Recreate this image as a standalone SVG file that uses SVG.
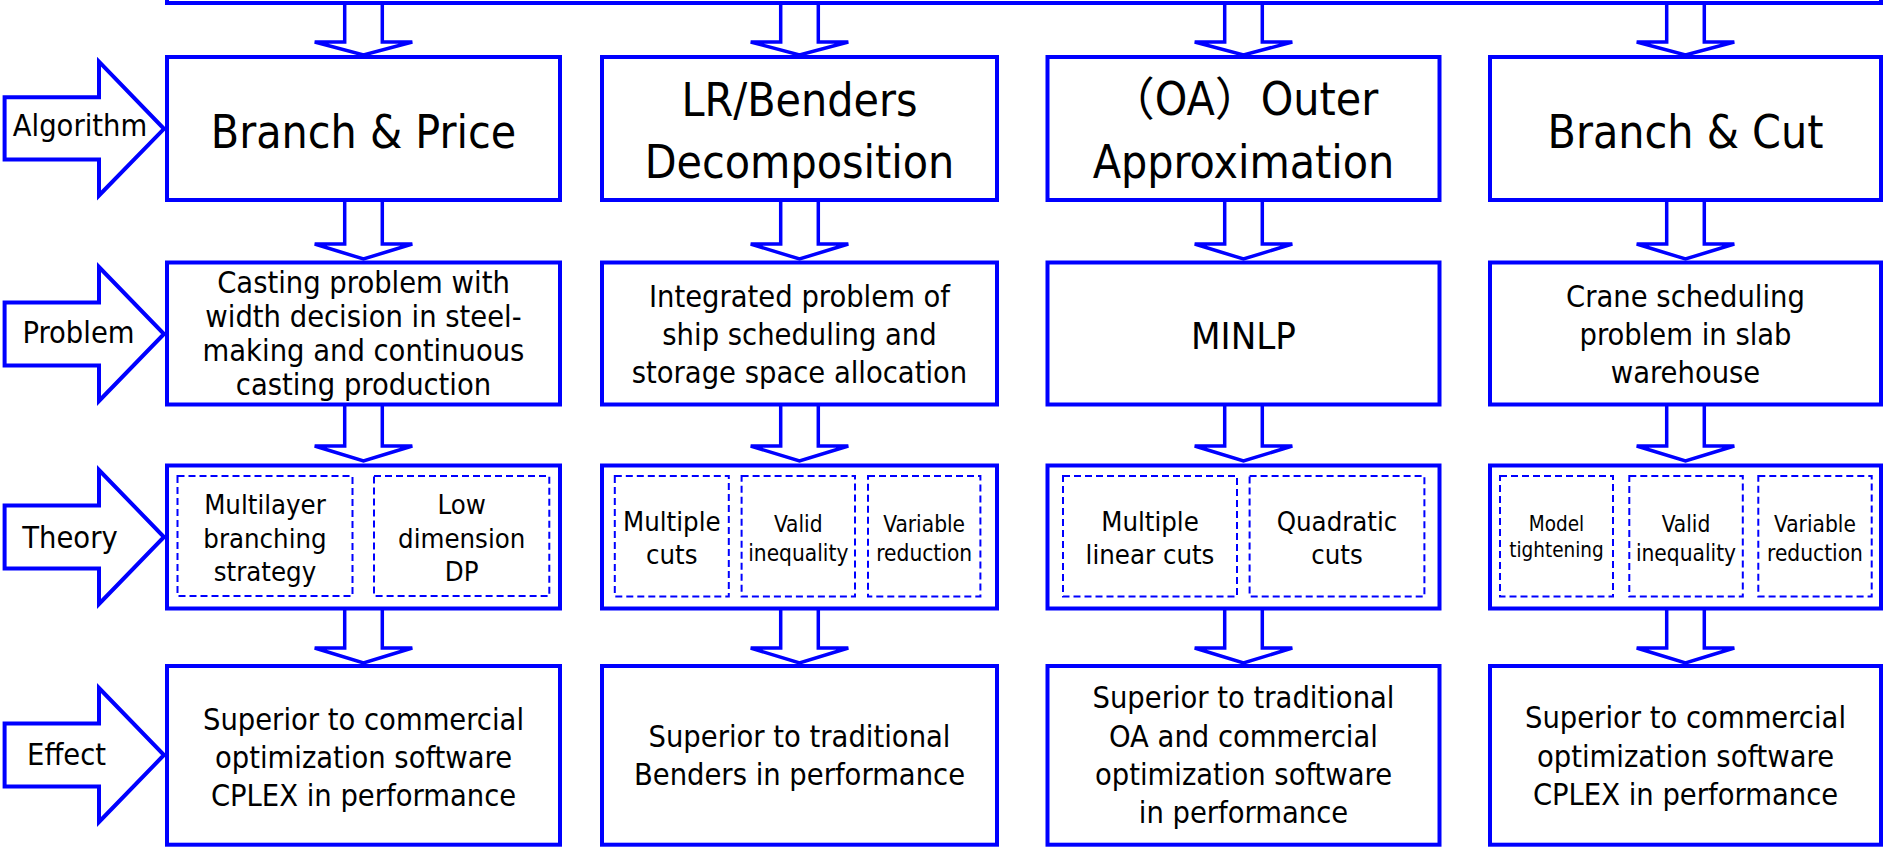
<svg xmlns="http://www.w3.org/2000/svg" width="1884" height="850" viewBox="0 0 1884 850">
<style>
.box{fill:#fff;stroke:#0000ff;stroke-width:4}
.dash{fill:none;stroke:#0000ff;stroke-width:2;stroke-dasharray:7 4}
.arr{fill:#fff;stroke:#0000ff;stroke-width:3.5;stroke-linejoin:miter}
text{font-family:"DejaVu Sans Condensed","DejaVu Sans","Noto Sans CJK SC",sans-serif;font-stretch:condensed;fill:#000;text-anchor:middle}
.t46{font-size:46px}
.t38{font-size:38px}
.t30{font-size:30.5px}
.t27{font-size:27.3px}
.t22{font-size:22.5px}
.t20{font-size:20.5px}
.lab{font-size:30.5px}
</style>
<rect width="1884" height="850" fill="#fff"/>

<g id="connectors">
  <path class="arr" d="M344.7 3 V42 H314.7 L363.5 55 L412.3 42 H382.3 V3"/>
  <path class="arr" d="M780.7 3 V42 H750.7 L799.5 55 L848.3 42 H818.3 V3"/>
  <path class="arr" d="M1224.7 3 V42 H1194.7 L1243.5 55 L1292.3 42 H1262.3 V3"/>
  <path class="arr" d="M1666.7 3 V42 H1636.7 L1685.5 55 L1734.3 42 H1704.3 V3"/>
  <path class="arr" d="M344.7 201 V244 H314.7 L363.5 259 L412.3 244 H382.3 V201"/>
  <path class="arr" d="M780.7 201 V244 H750.7 L799.5 259 L848.3 244 H818.3 V201"/>
  <path class="arr" d="M1224.7 201 V244 H1194.7 L1243.5 259 L1292.3 244 H1262.3 V201"/>
  <path class="arr" d="M1666.7 201 V244 H1636.7 L1685.5 259 L1734.3 244 H1704.3 V201"/>
  <path class="arr" d="M344.7 406 V446 H314.7 L363.5 461 L412.3 446 H382.3 V406"/>
  <path class="arr" d="M780.7 406 V446 H750.7 L799.5 461 L848.3 446 H818.3 V406"/>
  <path class="arr" d="M1224.7 406 V446 H1194.7 L1243.5 461 L1292.3 446 H1262.3 V406"/>
  <path class="arr" d="M1666.7 406 V446 H1636.7 L1685.5 461 L1734.3 446 H1704.3 V406"/>
  <path class="arr" d="M344.7 610 V648 H314.7 L363.5 663 L412.3 648 H382.3 V610"/>
  <path class="arr" d="M780.7 610 V648 H750.7 L799.5 663 L848.3 648 H818.3 V610"/>
  <path class="arr" d="M1224.7 610 V648 H1194.7 L1243.5 663 L1292.3 648 H1262.3 V610"/>
  <path class="arr" d="M1666.7 610 V648 H1636.7 L1685.5 663 L1734.3 648 H1704.3 V610"/>
</g>

<g id="top-bar">
  <rect class="box" x="167" y="-40" width="1714" height="43"/>
</g>

<g id="label-algorithm">
  <path class="box" d="M4.6 97.3 H99 V61.7 L164 128.8 L99 195.5 V159.5 H4.6 Z"/>
  <text class="lab" x="80" y="136.3">Algorithm</text>
</g>
<g id="label-problem">
  <path class="box" d="M4.6 302.5 H99 V267 L164 334 L99 401 V365.5 H4.6 Z"/>
  <text class="lab" x="78.5" y="343.3">Problem</text>
</g>
<g id="label-theory">
  <path class="box" d="M4.6 505.5 H99 V470 L164 537 L99 604 V568.5 H4.6 Z"/>
  <text class="lab" x="70" y="548.3">Theory</text>
</g>
<g id="label-effect">
  <path class="box" d="M4.6 723.5 H99 V688 L164 755 L99 822 V786.5 H4.6 Z"/>
  <text class="lab" x="66.6" y="765">Effect</text>
</g>

<g id="alg-bp">
  <rect class="box" x="167" y="57" width="393" height="143"/>
  <text class="t46" x="363.5" y="148.3">Branch &amp; Price</text>
</g>
<g id="alg-lr">
  <rect class="box" x="602" y="57" width="395" height="143"/>
  <text class="t46" x="799.5" y="116">LR/Benders</text>
  <text class="t46" x="799.5" y="178.3">Decomposition</text>
</g>
<g id="alg-oa">
  <rect class="box" x="1047.5" y="57" width="392" height="143"/>
  <text class="t46" x="1243.5" y="115">（OA）Outer</text>
  <text class="t46" x="1243.5" y="178.3">Approximation</text>
</g>
<g id="alg-bc">
  <rect class="box" x="1490" y="57" width="391" height="143"/>
  <text class="t46" x="1685.5" y="148.3">Branch &amp; Cut</text>
</g>

<g id="prob-casting">
  <rect class="box" x="167" y="262.5" width="393" height="142"/>
  <text class="t30" x="363.5" y="292.7">Casting problem with</text>
  <text class="t30" x="363.5" y="326.5">width decision in steel-</text>
  <text class="t30" x="363.5" y="360.5">making and continuous</text>
  <text class="t30" x="363.5" y="394.7">casting production</text>
</g>
<g id="prob-ship">
  <rect class="box" x="602" y="262.5" width="395" height="142"/>
  <text class="t30" x="799.5" y="306.7">Integrated problem of</text>
  <text class="t30" x="799.5" y="345">ship scheduling and</text>
  <text class="t30" x="799.5" y="383.3">storage space allocation</text>
</g>
<g id="prob-minlp">
  <rect class="box" x="1047.5" y="262.5" width="392" height="142"/>
  <text class="t38" x="1243.5" y="349.3">MINLP</text>
</g>
<g id="prob-crane">
  <rect class="box" x="1490" y="262.5" width="391" height="142"/>
  <text class="t30" x="1685.5" y="306.7">Crane scheduling</text>
  <text class="t30" x="1685.5" y="345">problem in slab</text>
  <text class="t30" x="1685.5" y="383.3">warehouse</text>
</g>

<g id="theory-bp">
  <rect class="box" x="167" y="465.5" width="393" height="143"/>
  <rect class="dash" x="177.5" y="476" width="175" height="120"/>
  <rect class="dash" x="374" y="476" width="175.3" height="120"/>
  <text class="t27" x="265" y="514.3">Multilayer</text>
  <text class="t27" x="265" y="547.8">branching</text>
  <text class="t27" x="265" y="580.7">strategy</text>
  <text class="t27" x="461.7" y="514.3">Low</text>
  <text class="t27" x="461.7" y="547.8">dimension</text>
  <text class="t27" x="461.7" y="580.7">DP</text>
</g>
<g id="theory-lr">
  <rect class="box" x="602" y="465.5" width="395" height="143"/>
  <rect class="dash" x="614.8" y="476" width="114" height="120.5"/>
  <rect class="dash" x="741.6" y="476" width="113.4" height="120.5"/>
  <rect class="dash" x="868" y="476" width="112.4" height="120.5"/>
  <text class="t27" x="671.8" y="530.7">Multiple</text>
  <text class="t27" x="671.8" y="564">cuts</text>
  <text class="t22" x="798.3" y="531.7">Valid</text>
  <text class="t22" x="798.3" y="560.7">inequality</text>
  <text class="t22" x="924.2" y="531.7">Variable</text>
  <text class="t22" x="924.2" y="560.7">reduction</text>
</g>
<g id="theory-oa">
  <rect class="box" x="1047.5" y="465.5" width="392" height="143"/>
  <rect class="dash" x="1063" y="476" width="174" height="120.5"/>
  <rect class="dash" x="1249.6" y="476" width="174.8" height="120.5"/>
  <text class="t27" x="1150" y="530.7">Multiple</text>
  <text class="t27" x="1150" y="564">linear cuts</text>
  <text class="t27" x="1337" y="530.7">Quadratic</text>
  <text class="t27" x="1337" y="564">cuts</text>
</g>
<g id="theory-bc">
  <rect class="box" x="1490" y="465.5" width="391" height="143"/>
  <rect class="dash" x="1500" y="476" width="113" height="120.5"/>
  <rect class="dash" x="1629.3" y="476" width="113.5" height="120.5"/>
  <rect class="dash" x="1758.3" y="476" width="113.4" height="120.5"/>
  <text class="t20" x="1556.5" y="530.7">Model</text>
  <text class="t20" x="1556.5" y="557.3">tightening</text>
  <text class="t22" x="1686" y="531.7">Valid</text>
  <text class="t22" x="1686" y="560.7">inequality</text>
  <text class="t22" x="1815" y="531.7">Variable</text>
  <text class="t22" x="1815" y="560.7">reduction</text>
</g>

<g id="effect-bp">
  <rect class="box" x="167" y="666" width="393" height="178.7"/>
  <text class="t30" x="363.5" y="730">Superior to commercial</text>
  <text class="t30" x="363.5" y="768">optimization software</text>
  <text class="t30" x="363.5" y="806">CPLEX in performance</text>
</g>
<g id="effect-lr">
  <rect class="box" x="602" y="666" width="395" height="178.7"/>
  <text class="t30" x="799.5" y="746.7">Superior to traditional</text>
  <text class="t30" x="799.5" y="785">Benders in performance</text>
</g>
<g id="effect-oa">
  <rect class="box" x="1047.5" y="666" width="392" height="178.7"/>
  <text class="t30" x="1243.5" y="708.3">Superior to traditional</text>
  <text class="t30" x="1243.5" y="746.7">OA and commercial</text>
  <text class="t30" x="1243.5" y="785">optimization software</text>
  <text class="t30" x="1243.5" y="823.3">in performance</text>
</g>
<g id="effect-bc">
  <rect class="box" x="1490" y="666" width="391" height="178.7"/>
  <text class="t30" x="1685.5" y="728">Superior to commercial</text>
  <text class="t30" x="1685.5" y="766.5">optimization software</text>
  <text class="t30" x="1685.5" y="804.5">CPLEX in performance</text>
</g>
</svg>
